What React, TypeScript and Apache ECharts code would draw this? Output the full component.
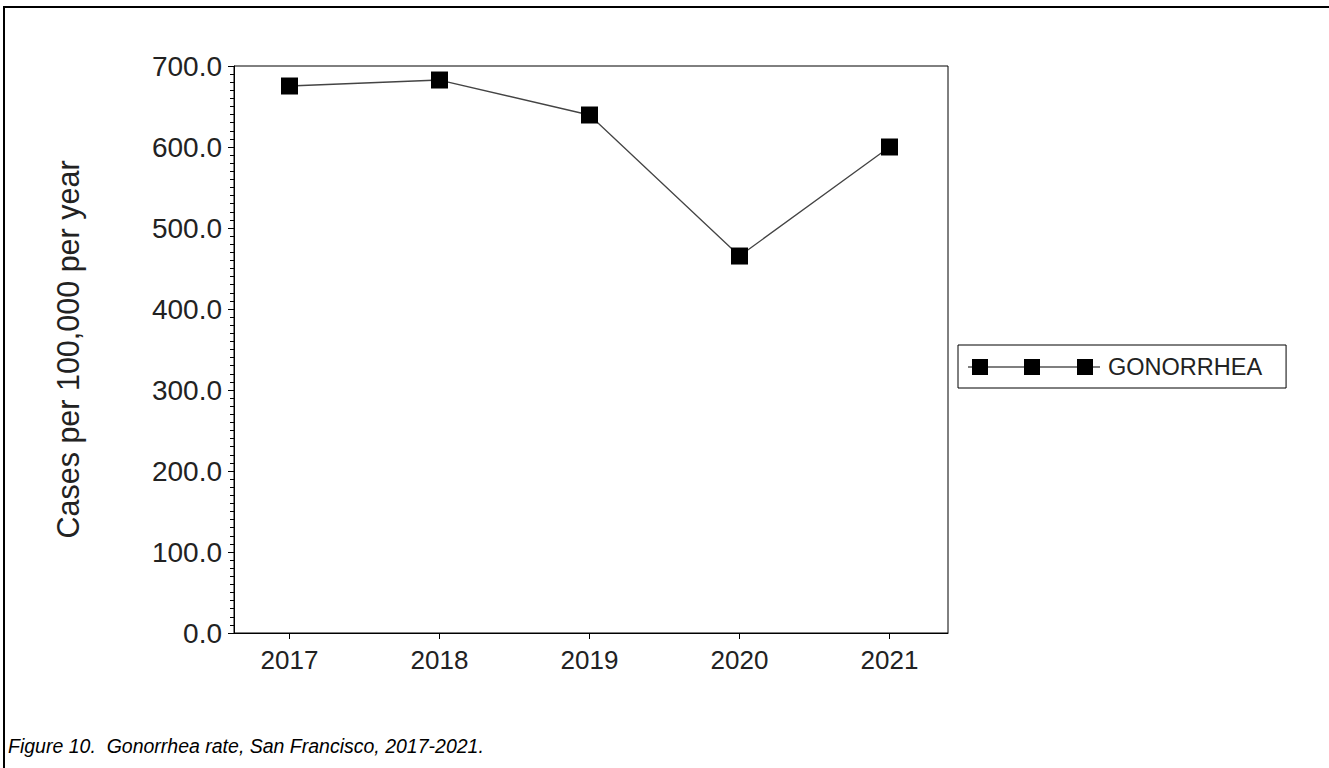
import React, { useEffect, useRef } from "react";
import * as echarts from "echarts";

const years = [2017, 2018, 2019, 2020, 2021];
const rates = [675.3, 682.7, 639.5, 465.4, 600.0];
const seriesName = "GONORRHEA";
const yTitle = "Cases per 100,000 per year";
const caption = "Figure 10.  Gonorrhea rate, San Francisco, 2017-2021.";

const FONT = "'Liberation Sans', Arial, Helvetica, sans-serif";

const legendIcon =
  "path://M0,7.4 L132,7.4 L132,8.6 L0,8.6 Z M4,0 L20,0 L20,16 L4,16 Z M56,0 L72,0 L72,16 L56,16 Z M109,0 L125,0 L125,16 L109,16 Z";

export default function App() {
  const ref = useRef<HTMLDivElement>(null);
  useEffect(() => {
    if (!ref.current) return;
    const chart = echarts.init(ref.current, undefined, { renderer: "svg" });
    chart.setOption({
      animation: false,
      backgroundColor: "#ffffff",
      title: {
        text: caption,
        left: 8,
        top: 736,
        padding: 0,
        textStyle: {
          fontFamily: FONT,
          fontSize: 19.5,
          fontStyle: "italic",
          fontWeight: "normal",
          color: "#000",
        },
      },
      graphic: [
        { type: "line", shape: { x1: 4, y1: 7, x2: 1329, y2: 7 }, style: { stroke: "#000", lineWidth: 2 } },
        { type: "line", shape: { x1: 4, y1: 6, x2: 4, y2: 768 }, style: { stroke: "#000", lineWidth: 2 } },
      ],
      legend: {
        left: 958,
        top: 345,
        orient: "vertical",
        padding: [10, 24, 9, 10],
        borderColor: "#000",
        borderWidth: 1,
        itemWidth: 132,
        itemHeight: 16,
        data: [{ name: seriesName, icon: legendIcon }],
        itemStyle: { color: "#000", borderWidth: 0 },
        textStyle: {
          fontFamily: FONT,
          fontSize: 23.5,
          color: "#222",
          lineHeight: 20,
          padding: [0, 0, 0, 3],
        },
      },
      grid: {
        left: 234,
        top: 66,
        right: 381,
        bottom: 135,
        show: true,
        borderColor: "#000",
        borderWidth: 1,
        containLabel: false,
      },
      xAxis: {
        type: "value",
        min: 2016.63,
        max: 2021.39,
        splitLine: { show: false },
        axisLine: { lineStyle: { color: "#000", width: 1 } },
        axisTick: {
          show: true,
          length: 6,
          inside: false,
          customValues: years,
          lineStyle: { color: "#000" },
        },
        axisLabel: {
          customValues: years,
          margin: 14,
          fontFamily: FONT,
          fontSize: 26,
          color: "#222",
          formatter: (v: number) => String(Math.round(v)),
        },
      },
      yAxis: {
        type: "value",
        min: 0,
        max: 700,
        interval: 100,
        name: yTitle,
        nameLocation: "middle",
        nameRotate: 90,
        nameGap: 151,
        nameTextStyle: { fontFamily: FONT, fontSize: 30.5, color: "#222" },
        splitLine: { show: false },
        axisLine: { show: true, lineStyle: { color: "#000", width: 1 } },
        axisTick: { show: true, length: 6, lineStyle: { color: "#000" } },
        minorTick: { show: true, splitNumber: 10, length: 4, lineStyle: { color: "#000" } },
        axisLabel: {
          margin: 12,
          fontFamily: FONT,
          fontSize: 28,
          color: "#222",
          formatter: (v: number) => v.toFixed(1),
        },
      },
      series: [
        {
          name: seriesName,
          type: "line",
          data: years.map((y, i) => [y, rates[i]]),
          symbol: "rect",
          symbolSize: 17,
          itemStyle: { color: "#000" },
          lineStyle: { color: "#444", width: 1.3 },
        },
      ],
    });
    return () => chart.dispose();
  }, []);
  return (
    <div
      ref={ref}
      style={{ position: "fixed", left: 0, top: 0, width: 1329, height: 768 }}
    />
  );
}
